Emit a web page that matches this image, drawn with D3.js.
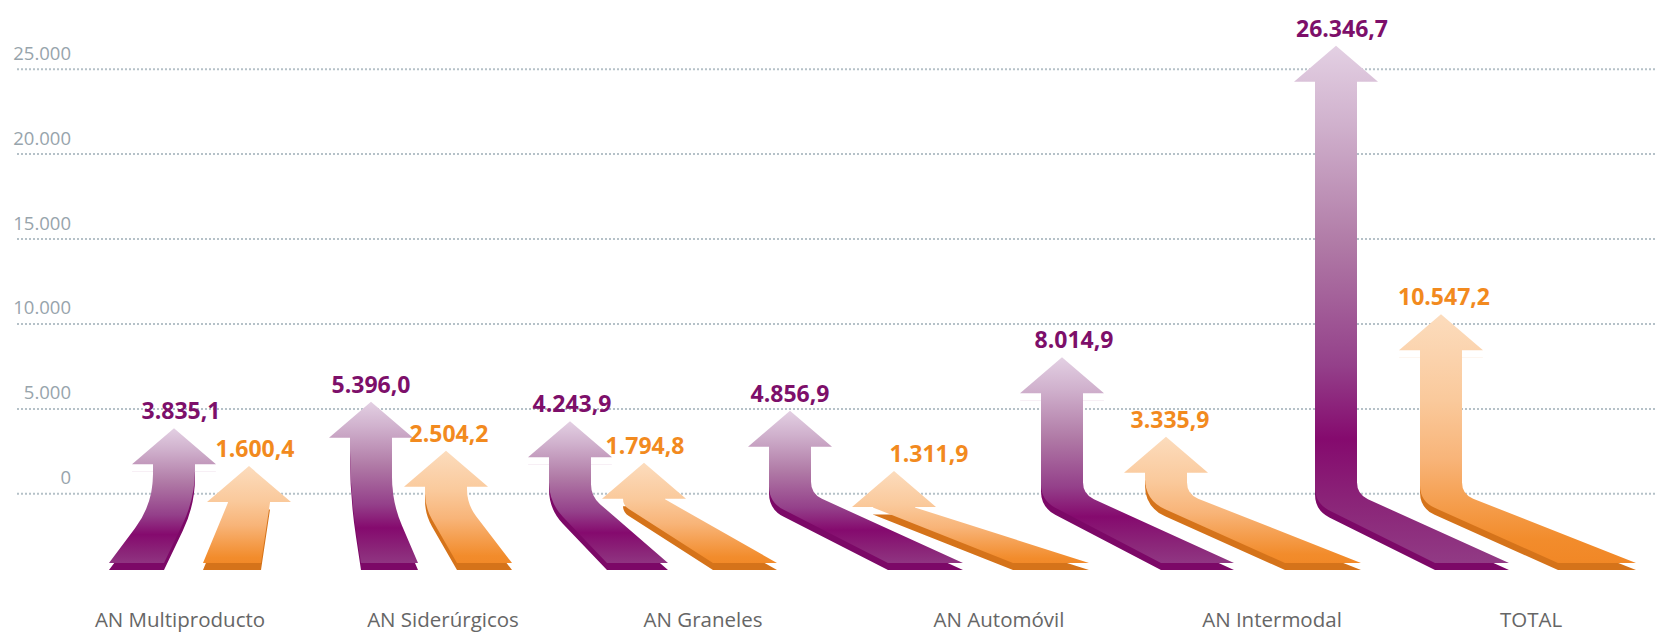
<!DOCTYPE html>
<html><head><meta charset="utf-8">
<script src="https://cdn.jsdelivr.net/npm/d3@7"></script>
<style>
html,body{margin:0;padding:0;background:#fff;}
svg{display:block;}
</style></head>
<body><svg id="chart" width="1655" height="634"></svg>
<script>
// ---------- DATA ----------
const categories = ["AN Multiproducto", "AN Siderúrgicos", "AN Graneles", "AN Automóvil", "AN Intermodal", "TOTAL"];
const seriesPurple = [3835.1, 5396.0, 4243.9, 4856.9, 8014.9, 26346.7];
const seriesOrange = [1600.4, 2504.2, 1794.8, 1311.9, 3335.9, 10547.2];
const yTicks = [0, 5000, 10000, 15000, 20000, 25000];

// ---------- LAYOUT / STYLE (not data) ----------
const W = 1655, H = 634;
const catNudge = [6.5, -3, -15.5, 8, 8.5, -5];
// per arrow: head offset, base left/right offsets (relative to category centre),
// bend corner y (relative to zero line) and radius for left / right edges, label shift
const layoutPurple = [
  {head: -6,   b0: -71,  b1: -16, cL: 11,  rL: 30, cR: 5,   rR: 28, ldx: 7},
  {head: -72,  b0: -82,  b1: -25, cL: -3,  rL: 40, cR: 9,   rR: 25, ldx: 0},
  {head: -133, b0: -96,  b1: -35, cL: 9,   rL: 20, cR: 3,   rR: 12, ldx: 2},
  {head: -209, b0: -111, b1: -36, cL: 9,   rL: 16, cR: 0.5, rR: 12, ldx: 0},
  {head: -210, b0: -111, b1: -38, cL: 7,   rL: 16, cR: 1,   rR: 12, ldx: 12},
  {head: -195, b0: -96,  b1: -22, cL: 10,  rL: 16, cR: 1,   rR: 12, ldx: 6}
];
const layoutOrange = [
  {head: 69,   b0: 23,  b1: 81,  cL: 5,  rL: 6,  cR: -1, rR: 0,  ldx: 6},
  {head: 3,    b0: 14,  b1: 69,  cL: 14, rL: 14, cR: 11, rR: 15, ldx: 3},
  {head: -59,  b0: 10,  b1: 74,  cL: 12, rL: 16, cR: 2,  rR: 12, ldx: 1},
  {head: -105, b0: 14,  b1: 90,  cL: 12, rL: 16, cR: 2,  rR: 12, ldx: 35},
  {head: -106, b0: 13,  b1: 89,  cL: 7,  rL: 22, cR: 1,  rR: 12, ldx: 4},
  {head: -90,  b0: 27,  b1: 105, cL: 8,  rL: 16, cR: 1,  rR: 12, ldx: 3}
];
const baseOffset = 69.7;   // floor (base of arrows) below zero line
const slab = 7;            // 3D thickness
const shaftHalf = 21, headHalf = 42, headH = 36;

const styles = {
  purple: {
    stops: [[0, "#e3d0e3"], [0.15, "#d0b1cd"], [0.38, "#b07aa6"], [0.61, "#94408a"], [0.75, "#850a6e"], [0.88, "#8b2679"], [1, "#923d86"]],
    side: "#7c0867", label: "#7d0f6a"
  },
  orange: {
    stops: [[0, "#fcdcbd"], [0.34, "#fac99b"], [0.57, "#f8b478"], [0.73, "#f59f50"], [0.88, "#f28c2c"], [1, "#f18624"]],
    side: "#d5731a", label: "#f28a1e"
  }
};

const loc = d3.formatLocale({decimal: ",", thousands: ".", grouping: [3], currency: ["", " €"]});
const tickFmt = loc.format(",");
const valFmt = loc.format(",.1f");

// ---------- SCALES ----------
const y = d3.scaleLinear().domain([0, 25000]).range([493.3, 68.7]);
const x = d3.scalePoint().domain(categories).range([173.5, 1536]);
const cx = (c, i) => x(c) + catNudge[i];

const svg = d3.select("#chart");
const defs = svg.append("defs");
const FONT = "'Open Sans', 'Noto Sans', sans-serif";

// ---------- GRID ----------
const axis = d3.axisLeft(y).tickValues(yTicks).tickFormat(tickFmt).tickSize(-(W - 17));
const gAxis = svg.append("g").attr("transform", "translate(17,0)").call(axis);
gAxis.select(".domain").remove();
gAxis.selectAll(".tick line")
  .attr("stroke", "#b5c1c8").attr("stroke-width", 2).attr("stroke-dasharray", "2,2");
gAxis.selectAll(".tick text")
  .attr("x", 54).attr("dy", -9.5).attr("text-anchor", "end")
  .attr("fill", "#97a4ac").style("font-family", FONT).style("font-size", "18.5px");

// ---------- ARROWS ----------
function arrowPath(hx, tipY, b0, b1, cL, rL, cR, rR, yB) {
  const HB = tipY + headH;
  const xL = hx - shaftHalf, xR = hx + shaftHalf;
  function edge(xe, c, r, bx) {
    c = Math.max(c, HB + 0.5);
    const dx = bx - xe, dy = yB - c, len = Math.hypot(dx, dy);
    r = Math.max(0, Math.min(r, c - HB, len * 0.8));
    const ux = dx / len, uy = dy / len;
    return {a: [xe, c - r], ctrl: [xe, c], b: [xe + ux * r, c + uy * r], base: [bx, yB]};
  }
  const R = edge(xR, cR, rR, b1), L = edge(xL, cL, rL, b0);
  const p = d3.path();
  p.moveTo(xL, HB);
  p.lineTo(hx - headHalf, HB);
  p.lineTo(hx, tipY);
  p.lineTo(hx + headHalf, HB);
  p.lineTo(xR, HB);
  p.lineTo(R.a[0], R.a[1]);
  p.quadraticCurveTo(R.ctrl[0], R.ctrl[1], R.b[0], R.b[1]);
  p.lineTo(R.base[0], R.base[1]);
  p.lineTo(L.base[0], L.base[1]);
  p.lineTo(L.b[0], L.b[1]);
  p.quadraticCurveTo(L.ctrl[0], L.ctrl[1], L.a[0], L.a[1]);
  p.lineTo(xL, HB);
  p.closePath();
  return p.toString();
}

const series = [
  {key: "purple", values: seriesPurple, layout: layoutPurple},
  {key: "orange", values: seriesOrange, layout: layoutOrange}
];

const y0 = y(0);
const yB = y0 + baseOffset;
const gArrows = svg.append("g");
const gLabels = svg.append("g");

categories.forEach((cat, i) => {
  const c = cx(cat, i);
  series.forEach(s => {
    const v = s.values[i], L = s.layout[i], st = styles[s.key];
    const tip = y(v);
    const HB = tip + headH;
    const hx = c + L.head;
    const id = `grad-${s.key}-${i}`;
    const grad = defs.append("linearGradient").attr("id", id)
      .attr("gradientUnits", "userSpaceOnUse")
      .attr("x1", 0).attr("x2", 0).attr("y1", tip).attr("y2", yB + slab);
    grad.selectAll("stop").data(st.stops).join("stop")
      .attr("offset", d => d[0]).attr("stop-color", d => d[1]);
    // clip so the side face shows only along the bend / floor, not under the head
    const clipId = `clip-${s.key}-${i}`;
    defs.append("clipPath").attr("id", clipId).append("rect")
      .attr("x", 0).attr("width", W)
      .attr("y", HB + slab + 0.5).attr("height", Math.max(0, H - (HB + slab + 0.5)));
    const d = arrowPath(hx, tip, c + L.b0, c + L.b1, y0 + L.cL, L.rL, y0 + L.cR, L.rR, yB);
    const g = gArrows.append("g");
    g.append("g").attr("clip-path", `url(#${clipId})`)
      .append("path").attr("d", d).attr("transform", `translate(0,${slab})`).attr("fill", st.side);
    g.append("path").attr("d", d).attr("fill", `url(#${id})`);
    gLabels.append("text")
      .attr("x", hx + L.ldx).attr("y", tip - 9)
      .attr("text-anchor", "middle")
      .attr("fill", st.label)
      .style("font-family", FONT).style("font-size", "23px").style("font-weight", 700)
      .text(valFmt(v));
  });
});

// ---------- CATEGORY LABELS ----------
svg.append("g").selectAll("text").data(categories).join("text")
  .attr("x", (d, i) => cx(d, i)).attr("y", 627)
  .attr("text-anchor", "middle")
  .attr("fill", "#666666")
  .style("font-family", FONT).style("font-size", "20.5px")
  .text(d => d);
</script>
</body></html>
